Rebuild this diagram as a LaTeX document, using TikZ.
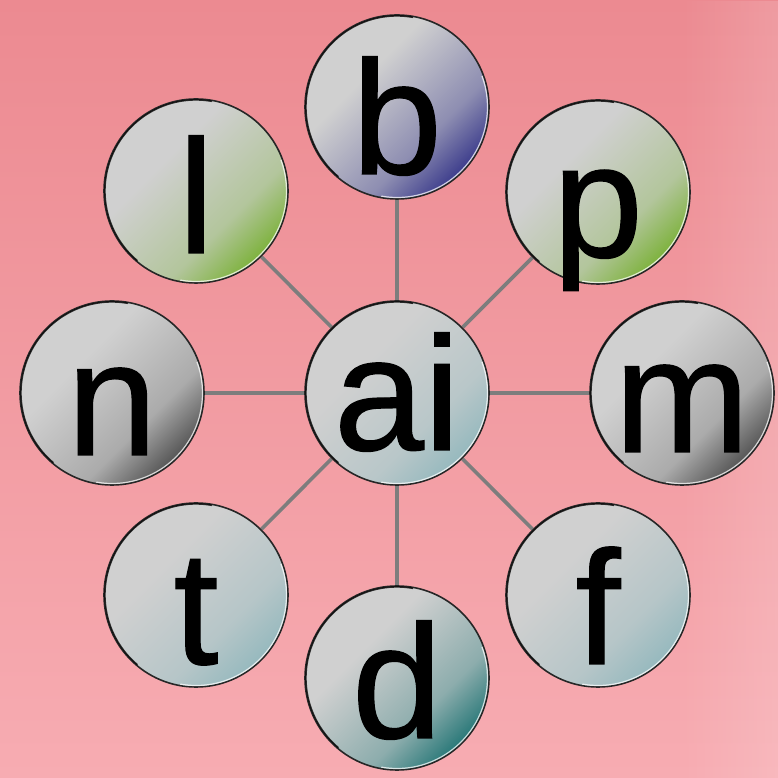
\documentclass[tikz,border=0pt]{standalone}
\usepackage{fontspec}
\setmainfont{Liberation Sans}
\newfontfamily\ballfont[FakeBold=0.8]{Liberation Sans}
\usetikzlibrary{fadings,calc}
\pgfdeclarelayer{bg}\pgfdeclarelayer{lines}
\pgfsetlayers{bg,lines,main}
\definecolor{ballbase}{RGB}{208,208,208}
\definecolor{connc}{RGB}{125,125,125}
\definecolor{pinktop}{RGB}{236,138,145}
\definecolor{pinkbot}{RGB}{247,172,178}
\definecolor{navy}{RGB}{60,60,140}
\definecolor{leaf}{RGB}{125,178,60}
\definecolor{darkg}{RGB}{85,85,85}
\definecolor{lteal}{RGB}{150,185,190}
\definecolor{dteal}{RGB}{40,120,120}
\colorlet{ballend}{gray}\colorlet{ballmid}{gray}
\pgfdeclareverticalshading[ballend,ballmid,ballbase]{ballshade}{100bp}{color(0bp)=(ballend); color(25bp)=(ballend); color(38bp)=(ballmid); color(62bp)=(ballbase); color(100bp)=(ballbase)}
\tikzset{
  ball/.style 2 args={circle, inner sep=0pt, minimum size=184pt, draw=black!85, line width=1.6pt,
    /utils/exec={\colorlet{ballend}{#1}\colorlet{ballmid}{#2}},
    shading=ballshade, shading angle=45, font=\ballfont\fontsize{162}{170}\selectfont, text=black, text depth=0pt},
  conn/.style={draw=connc, line width=3.6pt},
  rim/.style={white, opacity=.75, line width=1.2pt},
  shadowrim/.style={black, opacity=.8, line width=1.4pt}
}
\begin{document}
\begin{tikzpicture}[x=1pt,y=1pt]
\useasboundingbox (0,0) rectangle (778,778);
\begin{pgfonlayer}{bg}
  \fill[top color=pinktop, bottom color=pinkbot] (0,0) rectangle (778,778);
  \fill[white, opacity=.15, path fading=west] (680,0) rectangle (778,778);
\end{pgfonlayer}
\node[ball={navy}{ballbase!55!navy}, text height=134pt] (b) at (397,671) {b};
\node[ball={leaf}{ballbase!65!leaf}, text height=124pt] (l) at (196,587) {l};
\node[ball={leaf}{ballbase!65!leaf}, text height=130pt] (p) at (598,586) {p};
\node[ball={darkg}{ballbase!70!darkg}, text height=124pt] (n) at (112,385) {n};
\node[ball={lteal}{ballbase!60!lteal}, text height=114pt] (ai) at (397,385) {ai};
\node[ball={darkg}{ballbase!70!darkg}, text height=118pt] (m) at (682,385) {m};
\node[ball={lteal}{ballbase!55!lteal}, text height=138pt] (t) at (196,183) {t};
\node[ball={lteal}{ballbase!55!lteal}, text height=138pt] (f) at (598,183) {f};
\node[ball={dteal}{ballbase!60!dteal}, text height=120pt] (d) at (397,100) {d};
\foreach \x in {b,l,p,n,ai,m,t,f,d}{
  \draw[rim] ($(\x.center)+(-100:90.5pt)$) arc[start angle=-100, end angle=20, radius=90.5pt];
  \draw[shadowrim] ($(\x.center)+(80:91pt)$) arc[start angle=80, end angle=230, radius=91pt];
}
\begin{pgfonlayer}{lines}
  \foreach \x in {b,l,p,n,m,t,f,d}{\draw[conn] (ai) -- (\x);}
\end{pgfonlayer}
\end{tikzpicture}
\end{document}
